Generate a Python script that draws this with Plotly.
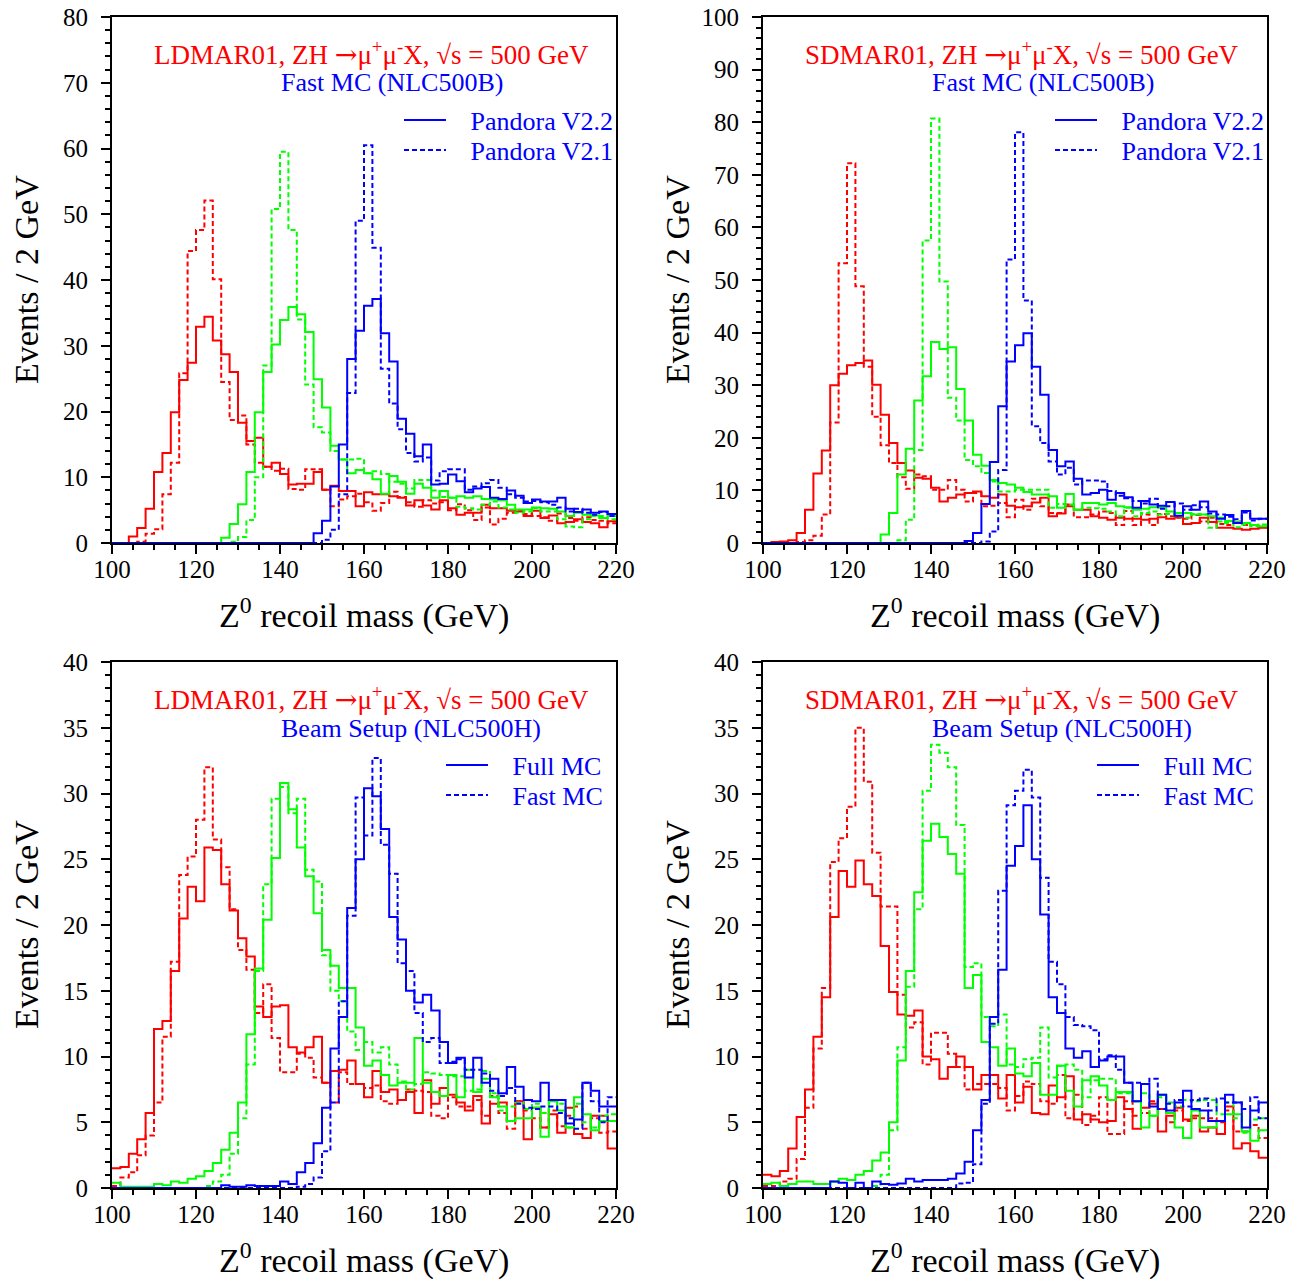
import numpy as np
import plotly.graph_objects as go

# ---------------- binning (Events / 2 GeV, 100-220 GeV) ----------------
BIN_LO, BIN_HI, BIN_W = 100, 220, 2
edges = np.arange(BIN_LO, BIN_HI + BIN_W, BIN_W)

# ---------------- Panel 1: LDMAR01, Fast MC (NLC500B) ----------------
ld_fast_red_v22 = [0, 0, 1.0, 2.3, 5.2, 10.8, 13.7, 19.9, 24.8, 27.4,
                   32.9, 34.4, 30.8, 28.7, 26.0, 18.3, 15.5, 16.0, 11.6, 12.2,
                   10.5, 8.9, 9.0, 9.0, 10.8, 8.1, 8.7, 7.9, 7.9, 5.6,
                   7.7, 7.4, 7.4, 7.1, 6.9, 5.7, 6.5, 5.7, 5.1, 6.5,
                   5.3, 4.3, 4.6, 4.6, 5.8, 5.3, 5.3, 4.9, 4.8, 4.1,
                   4.9, 3.8, 4.2, 3.0, 3.2, 3.6, 3.2, 3.0, 2.4, 3.3]
ld_fast_red_v21 = [0, 0, 0, 0.2, 1.4, 2.1, 7.4, 12.2, 25.8, 44.4,
                   47.6, 52.1, 40.1, 24.5, 18.7, 19.4, 15.0, 12.2, 11.6, 11.0,
                   11.3, 8.2, 8.1, 11.2, 11.2, 8.1, 5.6, 6.6, 7.1, 7.5,
                   6.2, 4.9, 6.1, 7.8, 7.0, 6.2, 5.5, 6.5, 6.0, 6.2,
                   5.0, 5.9, 5.0, 3.5, 5.4, 2.8, 3.7, 4.6, 4.9, 4.4,
                   4.1, 3.9, 3.4, 4.5, 3.8, 3.4, 3.9, 3.5, 3.4, 3.0]
ld_fast_grn_v22 = [0, 0, 0, 0, 0, 0, 0, 0, 0, 0,
                   0, 0, 0, 0.8, 2.9, 5.9, 10.8, 19.9, 26.0, 30.2,
                   33.9, 35.9, 34.8, 32.1, 24.9, 20.6, 14.8, 12.7, 10.6, 11.1,
                   10.6, 9.7, 7.5, 10.2, 9.3, 7.5, 9.0, 8.4, 6.9, 7.9,
                   6.9, 7.1, 6.9, 7.1, 6.7, 6.6, 6.5, 5.8, 5.1, 5.1,
                   5.4, 5.3, 5.2, 4.8, 4.1, 4.6, 4.3, 4.2, 3.8, 4.1]
ld_fast_grn_v21 = [0, 0, 0, 0, 0, 0, 0, 0, 0, 0,
                   0, 0, 0, 0, 0.2, 0.9, 3.5, 10.0, 27.0, 50.8,
                   59.5, 47.6, 34.0, 24.1, 17.6, 16.8, 14.0, 12.7, 12.7, 12.8,
                   10.6, 10.9, 10.5, 9.3, 9.0, 8.3, 9.6, 9.6, 8.0, 7.0,
                   6.9, 5.5, 5.3, 5.1, 5.8, 6.3, 5.4, 5.1, 4.6, 4.8,
                   5.3, 4.8, 4.8, 3.6, 2.5, 2.4, 3.6, 4.1, 4.1, 3.6]
ld_fast_blu_v22 = [0] * 20 + [
                   0, 0, 0, 0, 1.5, 3.4, 8.6, 15.0, 28.0, 32.3,
                   36.1, 37.1, 31.9, 27.6, 18.9, 16.6, 13.2, 15.0, 8.9, 9.0,
                   10.4, 9.4, 7.7, 8.3, 8.5, 6.9, 6.7, 8.0, 7.2, 6.1,
                   6.6, 6.3, 6.3, 6.9, 5.2, 4.7, 5.1, 4.6, 4.8, 4.4]
ld_fast_blu_v21 = [0] * 20 + [
                   0, 0, 0, 0, 0, 0.5, 2.0, 7.4, 22.8, 49.0,
                   60.5, 44.9, 26.5, 21.2, 17.3, 13.7, 12.4, 13.0, 9.5, 10.9,
                   11.2, 11.2, 8.1, 8.6, 9.1, 9.6, 8.4, 7.4, 6.9, 6.3,
                   6.4, 6.2, 5.8, 5.4, 4.8, 5.2, 4.6, 4.3, 4.7, 4.1]

# ---------------- Panel 2: SDMAR01, Fast MC (NLC500B) ----------------
sd_fast_red_v22 = [0, 0.2, 0.3, 0.5, 1.9, 6.3, 13.2, 17.6, 30.0, 32.2,
                   33.8, 34.2, 34.7, 30.1, 24.4, 19.0, 15.2, 13.8, 12.4, 12.2,
                   10.5, 7.9, 8.6, 9.2, 9.5, 9.8, 8.9, 8.6, 9.2, 7.1,
                   6.8, 7.0, 7.7, 8.6, 5.1, 5.6, 7.0, 6.3, 6.3, 5.1,
                   4.8, 4.4, 4.8, 4.6, 4.6, 4.4, 4.6, 4.9, 4.6, 4.9,
                   3.6, 3.8, 4.8, 4.0, 2.9, 2.9, 2.7, 2.5, 2.7, 2.9]
sd_fast_red_v21 = [0, 0, 0, 0, 0.2, 0.5, 1.4, 5.4, 22.9, 53.2,
                   72.2, 48.8, 33.5, 24.0, 18.6, 15.2, 12.5, 10.3, 13.0, 12.7,
                   10.1, 10.1, 12.0, 10.1, 7.9, 9.5, 7.0, 7.1, 7.6, 4.9,
                   8.2, 6.3, 8.4, 7.0, 5.7, 5.7, 7.3, 4.9, 4.9, 5.4,
                   6.0, 5.7, 3.4, 6.1, 3.4, 5.4, 3.4, 5.5, 5.1, 4.8,
                   4.6, 5.3, 4.1, 4.8, 3.6, 3.4, 4.1, 3.4, 3.4, 3.0]
sd_fast_grn_v22 = [0, 0, 0, 0, 0, 0, 0, 0, 0, 0,
                   0, 0, 0, 0, 1.6, 5.7, 13.0, 17.9, 27.1, 31.7,
                   38.2, 36.9, 37.2, 29.3, 23.3, 16.8, 14.7, 12.0, 11.4, 11.1,
                   10.5, 9.7, 9.2, 9.2, 8.9, 6.7, 9.3, 6.3, 7.6, 7.6,
                   7.3, 7.6, 7.0, 6.8, 6.3, 6.5, 6.8, 6.7, 6.0, 5.7,
                   5.7, 5.4, 5.4, 5.1, 4.8, 4.2, 4.0, 3.8, 3.4, 3.2]
sd_fast_grn_v21 = [0, 0, 0, 0, 0, 0, 0, 0, 0, 0,
                   0, 0, 0, 0, 0, 0, 0.5, 4.4, 17.7, 57.5,
                   80.7, 49.7, 27.6, 23.3, 15.8, 14.6, 13.3, 11.7, 9.8, 9.8,
                   10.1, 10.1, 10.1, 10.1, 6.7, 7.4, 7.3, 6.3, 6.7, 6.6,
                   6.5, 6.0, 5.1, 6.7, 5.1, 5.7, 6.0, 5.4, 5.5, 5.1,
                   4.8, 5.5, 5.4, 2.9, 4.1, 3.8, 3.0, 3.5, 3.2, 3.5]
sd_fast_blu_v22 = [0] * 20 + [
                   0, 0, 0, 0, 0.4, 1.9, 7.4, 15.4, 26.0, 34.5,
                   37.6, 39.9, 33.5, 28.2, 17.7, 14.6, 15.5, 12.2, 9.2, 9.5,
                   10.1, 8.2, 9.5, 8.7, 6.7, 8.0, 7.3, 7.1, 7.8, 5.2,
                   7.0, 6.3, 7.9, 6.0, 4.6, 5.3, 3.8, 6.1, 4.6, 4.6]
sd_fast_blu_v21 = [0] * 20 + [
                   0, 0, 0, 0, 0, 0, 0.3, 2.2, 13.9, 53.9,
                   78.1, 46.1, 22.2, 19.0, 15.5, 13.0, 14.3, 11.1, 11.9, 11.9,
                   11.7, 9.9, 9.0, 8.5, 8.0, 7.5, 8.4, 6.5, 7.0, 7.5,
                   6.3, 7.2, 6.8, 5.6, 5.4, 5.0, 4.5, 5.8, 4.3, 4.6]

# ---------------- Panel 3: LDMAR01, Beam Setup (NLC500H) ----------------
ld_beam_red_full = [1.5, 1.6, 2.6, 3.7, 5.7, 12.1, 12.7, 16.5, 20.5, 22.9,
                    21.8, 25.9, 25.7, 23.1, 21.1, 19.0, 17.6, 13.8, 13.0, 13.8,
                    13.9, 10.7, 10.3, 10.7, 11.5, 8.0, 8.9, 9.0, 9.7, 7.9,
                    6.9, 8.9, 7.3, 7.5, 6.7, 7.3, 5.7, 8.2, 6.4, 7.6,
                    7.1, 6.5, 5.9, 7.0, 4.9, 6.4, 6.5, 5.1, 6.6, 3.7,
                    6.1, 4.6, 5.6, 4.2, 6.1, 4.1, 3.8, 5.5, 5.5, 3.0]
ld_beam_red_fast = [0.15, 0.8, 1.2, 2.5, 4.0, 6.5, 11.5, 17.2, 23.8, 25.2,
                    28.0, 32.0, 26.5, 24.4, 21.2, 18.1, 16.6, 13.3, 15.5, 11.4,
                    8.8, 8.8, 10.2, 9.9, 8.4, 8.0, 6.5, 8.8, 7.9, 7.9,
                    7.6, 7.8, 6.6, 6.4, 6.7, 7.5, 7.4, 7.3, 5.5, 5.3,
                    6.9, 6.2, 6.2, 6.7, 5.5, 7.0, 5.7, 4.5, 6.6, 5.9,
                    5.3, 4.6, 5.9, 4.7, 5.5, 6.2, 4.5, 5.3, 4.2, 4.3]
ld_beam_grn_full = [0.4, 0.1, 0.1, 0.1, 0.1, 0.3, 0.2, 0.5, 0.4, 0.7,
                    0.9, 1.3, 1.9, 2.9, 4.2, 6.5, 11.7, 16.7, 20.4, 25.1,
                    30.8, 28.8, 25.9, 23.7, 20.9, 18.1, 16.9, 15.2, 15.2, 12.2,
                    9.3, 9.7, 8.6, 7.8, 8.0, 8.0, 11.4, 8.0, 7.3, 7.0,
                    8.6, 6.9, 9.0, 7.3, 8.3, 6.9, 6.2, 5.1, 5.3, 5.3,
                    6.1, 3.9, 6.6, 5.9, 4.6, 6.9, 5.6, 4.4, 5.1, 5.1]
ld_beam_grn_fast = [0, 0, 0, 0, 0, 0, 0, 0, 0, 0,
                    0, 0.15, 0.5, 1.0, 2.6, 5.3, 9.4, 16.5, 23.1, 29.6,
                    30.5, 28.5, 29.6, 24.2, 23.3, 17.7, 15.0, 14.2, 11.9, 10.5,
                    11.1, 10.3, 10.7, 9.4, 8.1, 7.5, 7.9, 8.8, 8.7, 8.6,
                    8.5, 8.5, 7.4, 7.5, 8.9, 7.2, 5.9, 6.2, 6.5, 6.0,
                    6.4, 5.7, 6.6, 6.4, 4.6, 6.4, 5.0, 4.6, 5.5, 5.6]
ld_beam_blu_full = [0] * 10 + [
                    0, 0, 0, 0.2, 0.1, 0.1, 0.2, 0.15, 0.15, 0.15,
                    0.5, 0.3, 1.2, 1.9, 3.4, 6.1, 10.6, 13.0, 21.3, 25.0,
                    30.4, 29.8, 27.3, 20.6, 18.9, 15.0, 14.1, 14.7, 13.5, 11.1,
                    9.5, 9.9, 8.4, 9.9, 8.0, 8.3, 7.2, 9.2, 7.7, 6.7,
                    6.6, 8.0, 6.7, 6.7, 4.9, 5.2, 8.0, 7.4, 6.2, 6.2]
ld_beam_blu_fast = [0] * 20 + [
                    0, 0, 0.1, 0.3, 0.8, 2.8, 6.5, 14.2, 20.7, 29.7,
                    26.8, 32.7, 26.1, 23.9, 17.1, 16.5, 13.3, 11.1, 11.4, 9.5,
                    9.6, 9.8, 9.0, 9.0, 8.7, 7.4, 7.0, 7.6, 6.4, 6.1,
                    6.0, 6.2, 6.2, 5.7, 5.3, 4.5, 8.0, 6.6, 5.0, 6.9]

# ---------------- Panel 4: SDMAR01, Beam Setup (NLC500H) ----------------
sd_beam_red_full = [1.0, 0.9, 1.3, 3.0, 5.4, 7.5, 11.5, 14.5, 20.6, 24.1,
                    22.9, 24.9, 23.1, 22.2, 18.4, 14.9, 13.2, 13.1, 13.5, 10.0,
                    9.8, 8.3, 9.2, 10.0, 9.2, 7.5, 8.6, 8.6, 6.8, 8.6,
                    6.5, 7.7, 5.7, 5.6, 7.8, 6.9, 8.5, 5.2, 5.6, 5.2,
                    5.0, 5.1, 6.9, 6.0, 4.5, 6.1, 6.4, 4.3, 5.5, 6.1,
                    5.2, 5.5, 4.3, 4.6, 4.1, 6.2, 3.0, 3.4, 2.8, 2.3]
sd_beam_red_fast = [0.15, 0.15, 0.5, 0.7, 2.2, 6.1, 10.6, 15.2, 24.8, 26.6,
                    29.0, 35.0, 30.9, 25.5, 21.4, 21.4, 14.7, 12.2, 12.6, 9.4,
                    11.8, 11.8, 10.2, 9.2, 7.5, 7.9, 7.9, 7.9, 7.6, 5.9,
                    7.0, 8.1, 7.9, 6.6, 6.4, 8.6, 5.3, 7.1, 4.8, 5.5,
                    6.9, 4.1, 4.1, 6.6, 5.5, 5.7, 6.6, 6.0, 5.0, 5.9,
                    5.1, 5.3, 5.3, 5.3, 5.0, 5.9, 4.3, 4.3, 4.8, 3.8]
sd_beam_grn_full = [0.3, 0.4, 0.15, 0.3, 0.5, 0.5, 0.3, 0.3, 0.5, 0.7,
                    0.6, 1.0, 1.3, 2.1, 2.7, 5.0, 9.7, 16.5, 22.5, 26.4,
                    27.7, 26.7, 25.4, 23.9, 15.2, 16.2, 11.1, 10.7, 9.3, 10.6,
                    8.7, 8.5, 9.5, 7.1, 7.1, 9.3, 7.4, 6.2, 8.2, 8.5,
                    7.8, 6.7, 7.3, 7.3, 6.6, 4.6, 5.5, 7.1, 5.7, 4.6,
                    3.8, 5.9, 4.6, 4.6, 5.1, 5.6, 5.6, 4.3, 3.6, 4.4]
sd_beam_grn_fast = [0, 0, 0, 0, 0, 0, 0, 0, 0, 0,
                    0, 0, 0, 0.15, 1.0, 4.4, 10.7, 15.3, 21.2, 30.2,
                    33.7, 33.1, 32.0, 27.6, 16.8, 17.1, 13.0, 12.3, 13.2, 9.4,
                    9.2, 9.8, 9.9, 12.2, 8.4, 9.3, 9.4, 9.0, 6.9, 8.2,
                    8.3, 8.3, 7.2, 7.2, 6.6, 7.2, 5.5, 6.9, 6.5, 6.2,
                    6.7, 6.6, 6.7, 6.7, 5.6, 6.5, 5.3, 4.2, 5.2, 5.3]
sd_beam_blu_full = [0, 0, 0, 0, 0, 0, 0, 0, 0.5, 0.4,
                    0, 0.4, 0, 0.5, 0.3, 0.25, 0.35, 0.7, 0.5, 0.6,
                    0.6, 0.6, 0.7, 1.1, 2.0, 4.4, 6.7, 13.0, 16.6, 24.5,
                    26.0, 29.1, 25.0, 20.8, 14.5, 13.3, 10.6, 9.9, 10.4, 9.2,
                    9.7, 10.0, 10.0, 8.0, 6.6, 7.9, 6.2, 7.1, 5.9, 6.5,
                    7.4, 6.0, 5.9, 5.1, 5.1, 7.1, 6.5, 4.6, 5.9, 6.5]
sd_beam_blu_fast = [0] * 20 + [
                    0, 0, 0, 0.35, 0.4, 1.8, 6.4, 12.5, 22.6, 29.1,
                    30.2, 31.8, 29.7, 23.6, 17.2, 15.5, 13.0, 12.4, 12.3, 12.0,
                    9.8, 10.1, 9.0, 8.0, 8.0, 7.9, 8.3, 6.0, 6.4, 6.7,
                    6.2, 6.7, 6.8, 5.9, 6.8, 6.5, 6.5, 6.0, 6.9, 5.3]

# ---------------- texts ----------------
ARROW = "<span style=\"font-family:'DejaVu Serif'\">\u2192</span>"
RED_LD = "LDMAR01, ZH " + ARROW + "\u03bc<sup>+</sup>\u03bc<sup>-</sup>X, \u221as = 500 GeV"
RED_SD = "SDMAR01, ZH " + ARROW + "\u03bc<sup>+</sup>\u03bc<sup>-</sup>X, \u221as = 500 GeV"
BLUE_FAST = "Fast MC (NLC500B)"
BLUE_BEAM = "Beam Setup (NLC500H)"
X_TITLE = "Z<sup>0</sup> recoil mass (GeV)"
Y_TITLE = "Events / 2 GeV"

RED, GREEN, BLUE = "#ff0000", "#00ff00", "#0000ff"

panels = [
    dict(red=RED_LD, blue=BLUE_FAST, bluex=280, names=("Pandora V2.2", "Pandora V2.1"), legx=293,
         ymax=80, ydt=10, ymin=2,
         series=[(ld_fast_red_v22, ld_fast_red_v21, RED),
                 (ld_fast_grn_v22, ld_fast_grn_v21, GREEN),
                 (ld_fast_blu_v22, ld_fast_blu_v21, BLUE)]),
    dict(red=RED_SD, blue=BLUE_FAST, bluex=280, names=("Pandora V2.2", "Pandora V2.1"), legx=293,
         ymax=100, ydt=10, ymin=2,
         series=[(sd_fast_red_v22, sd_fast_red_v21, RED),
                 (sd_fast_grn_v22, sd_fast_grn_v21, GREEN),
                 (sd_fast_blu_v22, sd_fast_blu_v21, BLUE)]),
    dict(red=RED_LD, blue=BLUE_BEAM, bluex=299, names=("Full MC", "Fast MC"), legx=335,
         ymax=40, ydt=5, ymin=1,
         series=[(ld_beam_red_full, ld_beam_red_fast, RED),
                 (ld_beam_grn_full, ld_beam_grn_fast, GREEN),
                 (ld_beam_blu_full, ld_beam_blu_fast, BLUE)]),
    dict(red=RED_SD, blue=BLUE_BEAM, bluex=299, names=("Full MC", "Fast MC"), legx=335,
         ymax=40, ydt=5, ymin=1,
         series=[(sd_beam_red_full, sd_beam_red_fast, RED),
                 (sd_beam_grn_full, sd_beam_grn_fast, GREEN),
                 (sd_beam_blu_full, sd_beam_blu_fast, BLUE)]),
]

W, H = 1299, 1280
# pixel frames of the four panels: (left, right, top, bottom)
frames = [(112, 616, 17, 543), (763, 1267, 17, 543),
          (112, 616, 662, 1188), (763, 1267, 662, 1188)]

FONT = "Liberation Serif"
GAP = "\u00a0\u00a0\u00a0"
fig = go.Figure()
layout = dict(width=W, height=H, margin=dict(l=0, r=0, t=0, b=0, autoexpand=False),
              paper_bgcolor="white", plot_bgcolor="white", showlegend=True,
              annotations=[])

for i, (p, fr) in enumerate(zip(panels, frames)):
    n = i + 1
    xa = "x" if n == 1 else f"x{n}"
    ya = "y" if n == 1 else f"y{n}"
    lg_solid = "legend" if n == 1 else f"legend{2 * i + 1}"
    lg_dash = f"legend{2 * i + 2}"
    l, r, t, b = fr
    xdom = [l / W, r / W]
    ydom = [1 - b / H, 1 - t / H]
    for solid, dashed, col in p["series"]:
        for vals, dash, nm, lg in ((solid, "solid", p["names"][0], lg_solid),
                                   (dashed, "5px,3px", p["names"][1], lg_dash)):
            assert len(vals) == len(edges) - 1, (nm, len(vals))
            fig.add_trace(go.Scatter(
                x=edges, y=list(vals) + [vals[-1]], mode="lines",
                line=dict(color=col, width=2, dash=dash, shape="hv"),
                xaxis=xa, yaxis=ya, name=GAP + nm, legend=lg,
                showlegend=(col == BLUE), hoverinfo="skip"))
    axcommon = dict(showline=True, linewidth=2, linecolor="black", mirror=True,
                    showgrid=False, zeroline=False, ticks="outside", tickwidth=1.5,
                    tickcolor="black", ticklen=9, automargin=False,
                    tickfont=dict(family=FONT, size=25, color="black"))
    layout["xaxis" if n == 1 else f"xaxis{n}"] = dict(
        domain=xdom, anchor=ya, range=[BIN_LO, BIN_HI], tickmode="linear", tick0=100, dtick=20,
        ticklabelstandoff=-6,
        minor=dict(dtick=5, ticks="outside", ticklen=5, tickwidth=1.5, tickcolor="black"),
        **axcommon)
    layout["yaxis" if n == 1 else f"yaxis{n}"] = dict(
        domain=ydom, anchor=xa, range=[0, p["ymax"]], tickmode="linear", tick0=0, dtick=p["ydt"],
        ticklabelstandoff=8,
        minor=dict(dtick=p["ymin"], ticks="outside", ticklen=5, tickwidth=1.5, tickcolor="black"),
        **axcommon)
    for lg, dy in ((lg_solid, 103), (lg_dash, 133)):
        layout[lg] = dict(x=(l + p["legx"] - 6) / W, y=1 - (t + dy) / H,
                          xanchor="left", yanchor="middle",
                          bgcolor="rgba(0,0,0,0)", itemwidth=42, borderwidth=0,
                          font=dict(family=FONT, size=26, color=BLUE))
    cx = (l + r) / 2
    layout["annotations"] += [
        dict(text=p["red"], x=(l + 259) / W, y=1 - (t + 36) / H, xref="paper", yref="paper",
             xanchor="center", yanchor="middle", showarrow=False,
             font=dict(family=FONT, size=27, color=RED)),
        dict(text=p["blue"], x=(l + p["bluex"]) / W, y=1 - (t + 66) / H,
             xref="paper", yref="paper",
             xanchor="center", yanchor="middle", showarrow=False,
             font=dict(family=FONT, size=26, color=BLUE)),
        dict(text=X_TITLE, x=cx / W, y=1 - (b + 70) / H, xref="paper", yref="paper",
             xanchor="center", yanchor="middle", showarrow=False,
             font=dict(family=FONT, size=34, color="black")),
        dict(text=Y_TITLE, x=(l - 86) / W, y=1 - ((t + b) / 2) / H, xref="paper", yref="paper",
             xanchor="center", yanchor="middle", showarrow=False, textangle=-90,
             font=dict(family=FONT, size=34, color="black")),
    ]

fig.update_layout(**layout)
fig.write_html("out.html")
